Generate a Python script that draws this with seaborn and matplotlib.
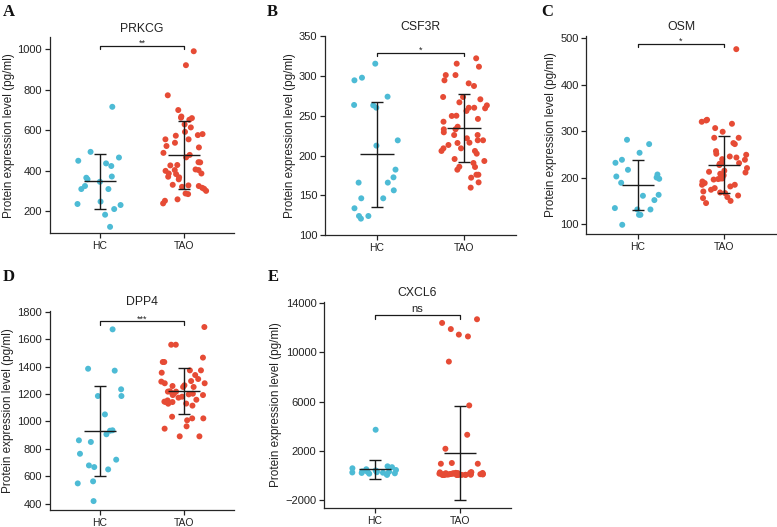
import numpy as np
import pandas as pd
import matplotlib
matplotlib.use("Agg")
import matplotlib.pyplot as plt
import matplotlib.transforms as mtransforms
import seaborn as sns

groups = ["HC", "TAO"]
palette = {"HC": "#4DBBD5", "TAO": "#E64B35"}

# ---- data (pg/ml) ----
prkcg_hc = [716, 449, 436, 423, 345, 357, 365, 371, 324, 309, 309, 230, 235,
            247, 210, 182, 122, 493, 465]
prkcg_tao = [991, 922, 773, 700, 660, 668, 662, 652, 629, 614, 555, 576, 592,
             581, 573, 555, 538, 522, 515, 488, 478, 466, 442, 426, 441, 428,
             406, 403, 386, 383, 386, 367, 399, 403, 370, 357, 310, 300, 320,
             324, 330, 327, 315, 287, 284, 238, 258, 251]

csf3r_hc = [297.7, 294.4, 315.3, 273.9, 263.0, 260.1, 263.5, 212.5, 219.1,
            172.7, 166.1, 166.1, 182.4, 156.4, 146.4, 146.4, 133.9, 124.2,
            124.2, 120.9]
csf3r_tao = [322, 311.5, 315.3, 301, 301, 294.4, 287.3, 290.6, 273.5, 273.5,
             266.8, 270.6, 260, 260, 256, 259.3, 263, 250, 249.7, 246, 242.5,
             236.2, 233, 233, 229.2, 225.8, 225.8, 219.2, 219.2, 221.7, 216.2,
             215.8, 213.3, 209.1, 205.8, 209.1, 205.8, 202.4, 195.7, 190.7,
             185.7, 193.2, 186, 182.3, 176, 176, 172.3, 166.4, 159.8]

osm_hc = [238.6, 272.4, 281.7, 253.7, 232.1, 206.9, 200.4, 202.6, 197.6, 189,
          217, 161, 163.1, 151.7, 134.5, 120, 120, 131.5, 131.5, 98.5]
osm_tao = [477, 320.5, 324.8, 323.3, 306.9, 316.2, 299, 286, 286, 272.4,
           274.6, 257.3, 251.5, 249.4, 245.7, 238.6, 243.5, 231.4, 230, 231.4,
           227.2, 220.7, 212.7, 211.2, 208.4, 198.3, 202.6, 197, 198.3, 191.8,
           188.4, 184.7, 181.1, 184.7, 177.6, 174, 170.3, 166.8, 168.1, 156,
           158.2, 161.6, 145.3, 196, 150, 205, 215, 240]

dpp4_hc = [1671, 1384, 1370, 1234, 1185, 1185, 1051, 935, 906, 932, 862, 850,
           764, 721, 667, 650, 679, 563, 548, 419]
dpp4_tao = [1688, 1559, 1559, 1465, 1433, 1433, 1372, 1372, 1355, 1338, 1309,
            1278, 1294, 1263, 1251, 1278, 1290, 1258, 1251, 1217, 1202, 1202,
            1192, 1202, 1180, 1192, 1173, 1197, 1158, 1144, 1115, 1130, 1153,
            1141, 1141, 1129, 1022, 1022, 1034, 1008, 964, 947, 891, 891, 1217,
            1220]

cxcl6_hc = [3700, 720, 650, 560, 480, 420, 380, 350, 320, 300, 280, 260, 240,
            220, 200, 180, 150, 120, 80, 20]
cxcl6_tao = [12700, 12400, 11900, 11450, 11300, 9250, 5680, 3290, 2150, 990,
             930, 930, 250, 230, 210, 200, 190, 180, 170, 160, 150, 140, 130,
             120, 110, 100, 95, 90, 85, 80, 75, 70, 65, 60, 55, 50, 45, 40, 35,
             30, 28, 25, 22, 20, 18, 15, 12, 10]

titles = ["PRKCG", "CSF3R", "OSM", "DPP4", "CXCL6"]
letters = ["A", "B", "C", "D", "E"]
signif = ["**", "*", "*", "***", "ns"]
yticks = [[200, 400, 600, 800, 1000],
          [100, 150, 200, 250, 300, 350],
          [100, 200, 300, 400, 500],
          [400, 600, 800, 1000, 1200, 1400, 1600, 1800],
          [-2000, 2000, 6000, 10000, 14000]]
ylims = [(90, 1060), (100, 350), (78, 506), (354, 1807), (-2700, 14130)]
series = [(prkcg_hc, prkcg_tao), (csf3r_hc, csf3r_tao), (osm_hc, osm_tao),
          (dpp4_hc, dpp4_tao), (cxcl6_hc, cxcl6_tao)]

# ---- layout (pixels: left, right, top, bottom) ----
W, H = 777, 527
boxes = [(49.6, 234.4, 37.3, 233.3),
         (324.8, 516.2, 36.0, 235.3),
         (586.4, 775.6, 35.7, 234.3),
         (49.6, 234.4, 310.7, 510.0),
         (324.0, 511.0, 301.7, 508.3)]
letter_pos = [(3, 4), (267, 4), (541, 4), (3, 269), (268, 269)]
bracket_y = [0.956, 0.916, 0.960, 0.947, 0.936]

sns.set_style("ticks")
plt.rcParams["font.family"] = ["Liberation Sans", "DejaVu Sans"]
plt.rcParams["axes.linewidth"] = 0.9

fig = plt.figure(figsize=(W / 100, H / 100), dpi=100)

for k in range(5):
    l, r, t, b = boxes[k]
    ax = fig.add_axes([l / W, 1 - b / H, (r - l) / W, (b - t) / H])
    hc, tao = series[k]
    df = pd.DataFrame({"group": ["HC"] * len(hc) + ["TAO"] * len(tao),
                       "value": list(hc) + list(tao)})
    np.random.seed(10 + k)
    sns.stripplot(data=df, x="group", y="value", hue="group", order=groups,
                  hue_order=groups, palette=palette, jitter=0.27, size=4.3,
                  linewidth=0, legend=False, ax=ax, zorder=1)
    for i, g in enumerate(groups):
        v = df.loc[df.group == g, "value"].to_numpy()
        m, s = v.mean(), v.std(ddof=1)
        ax.hlines(m, i - 0.19, i + 0.19, color="#1a1a1a", lw=1.0, zorder=3)
        ax.vlines(i, m - s, m + s, color="#1a1a1a", lw=1.0, zorder=3)
        ax.hlines([m - s, m + s], i - 0.07, i + 0.07, color="#1a1a1a",
                  lw=1.0, zorder=3)
    ax.set_xlim(-0.6, 1.6)
    ax.set_ylim(*ylims[k])
    ax.set_yticks(yticks[k])
    ax.set_xlabel("")
    ax.set_ylabel("Protein expression level (pg/ml)", fontsize=8.5,
                  labelpad=2, color="#222222")
    ax.set_title(titles[k], fontsize=8.8, pad=4, color="#222222")
    ax.tick_params(axis="both", length=3.5, width=0.9, pad=2,
                   colors="#222222")
    ax.tick_params(axis="y", labelsize=8)
    ax.tick_params(axis="x", labelsize=7.5)
    sns.despine(ax=ax)
    trans = mtransforms.blended_transform_factory(ax.transData, ax.transAxes)
    yb = bracket_y[k]
    ax.plot([0, 0, 1, 1], [yb - 0.018, yb, yb, yb - 0.018], transform=trans,
            color="#1a1a1a", lw=0.9, clip_on=False)
    if signif[k] == "ns":
        ax.text(0.5, yb + 0.004, "ns", transform=trans, ha="center",
                va="bottom", fontsize=8, color="#222222")
    else:
        ax.text(0.5, yb - 0.01, signif[k], transform=trans, ha="center",
                va="bottom", fontsize=6.5, color="#222222")
    lx, ly = letter_pos[k]
    fig.text(lx / W, 1 - ly / H, letters[k], fontfamily="Liberation Serif",
             fontweight="bold", fontsize=12, va="top", ha="left",
             color="#111111")

fig.savefig("out.png", dpi=100)
